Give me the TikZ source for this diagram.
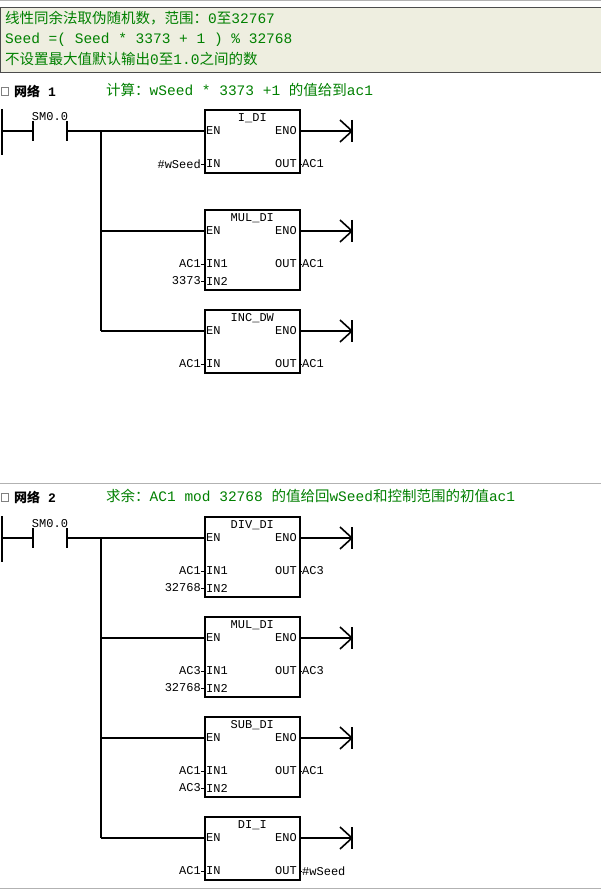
\documentclass[tikz,border=0pt]{standalone}
\usepackage{fontspec}
\usetikzlibrary{calc}
\setmainfont{Liberation Mono}
\newfontfamily\cjk{Noto Sans CJK SC}
\definecolor{cgreen}{RGB}{0,128,0}
\definecolor{hdr}{RGB}{238,238,224}
\begin{document}
\begin{tikzpicture}[x=1pt,y=-1pt,
  wire/.style={line width=1.6pt},
  box/.style={draw,line width=1.6pt,minimum width=95pt,anchor=north west,inner sep=0},
  lbl/.style={font=\fontsize{12}{12}\selectfont,inner sep=0},
  cmt/.style={font=\fontsize{14.5}{14.5}\selectfont,text=cgreen,inner sep=0,anchor=west}]
\useasboundingbox (0,0) rectangle (601,890);
\fill[white] (0,0) rectangle (601,890);
\draw[gray!60,line width=1pt] (0,1) -- (601,1);
\draw[fill=hdr,draw=black!70] (0,7) rectangle (603,72);
\node[cmt] (c1) at (5,18) {{\cjk 线性同余法取伪随机数，范围：}0{\cjk 至}32767};
\node[cmt] (c2) at (5,40) {Seed =( Seed * 3373 + 1 ) \% 32768};
\node[cmt] (c3) at (5,59) {{\cjk 不设置最大值默认输出}0{\cjk 至}1.0{\cjk 之间的数}};
\draw[gray!60,line width=1pt] (0,483) -- (601,483);
\draw[gray!60,line width=1pt] (0,888) -- (601,888);
\foreach \y in {91,497}{
  \draw[gray] (1,\y-4) rectangle (8,\y+4);
}
\node[anchor=west,inner sep=0,font=\bfseries\fontsize{13}{13}\selectfont] (n1) at (14,91) {{\cjk\bfseries 网络} 1};
\node[cmt] (t1) at (106,90) {{\cjk 计算：}wSeed * 3373 +1 {\cjk 的值给到}ac1};
\node[anchor=west,inner sep=0,font=\bfseries\fontsize{13}{13}\selectfont] (n2) at (14,497) {{\cjk\bfseries 网络} 2};
\node[cmt] (t2) at (106,496) {{\cjk 求余：}AC1 mod 32768 {\cjk 的值给回}wSeed{\cjk 和控制范围的初值}ac1};
\foreach \ry/\top/\bot in {131/109/155, 538/516/562}{
  \draw[wire] (2,\top) -- (2,\bot);
  \draw[wire] (2,\ry) -- (33,\ry);
  \draw[wire] (33,\ry-10) -- (33,\ry+10);
  \draw[wire] (67,\ry-10) -- (67,\ry+10);
  \draw[wire] (67,\ry) -- (204,\ry);
  \node[lbl,anchor=south] at (50,\ry-10) {SM0.0};
}
\draw[wire] (101,131) -- (101,331);
\draw[wire] (101,538) -- (101,838);
\newcommand\fbk[7]{%
  \node[box,minimum height=#4] (#1) at (204,#2) {};
  \node[lbl,anchor=north] at ($(#1.north)+(0,4)$) {#3};
  \node[lbl,anchor=west] at (206,#2+22) {EN};
  \node[lbl,anchor=east] at (297,#2+22) {ENO};
  \draw[wire] (101,#2+22) -- (204,#2+22);
  \draw[wire] (299,#2+22) -- (352,#2+22);
  \draw[wire] (340,#2+11) -- (352,#2+22) -- (340,#2+33);
  \draw[wire] (352,#2+11) -- (352,#2+33);
  \draw (201,#2+55) -- (204,#2+55);
  \draw (299,#2+55) -- (302,#2+55);
  \node[lbl,anchor=east] at (297,#2+55) {OUT};
  \node[lbl,anchor=west] at (302,#2+55) {#7};
  \node[lbl,anchor=east] at (201,#2+55) {#5};
}
\newcommand\inpone[2]{\node[lbl,anchor=west] at (206,#1+55) {#2};}
\newcommand\inptwo[2]{\node[lbl,anchor=west] at (206,#1+55) {IN1};
  \node[lbl,anchor=west] at (206,#1+72) {IN2};
  \draw (201,#1+72) -- (204,#1+72);
  \node[lbl,anchor=east] at (201,#1+72) {#2};}
\fbk{b1}{109}{I\_DI}{63pt}{\#wSeed}{}{AC1}\inpone{109}{IN}
\fbk{b2}{209}{MUL\_DI}{80pt}{AC1}{}{AC1}\inptwo{209}{3373}
\fbk{b3}{309}{INC\_DW}{63pt}{AC1}{}{AC1}\inpone{309}{IN}
\fbk{b4}{516}{DIV\_DI}{80pt}{AC1}{}{AC3}\inptwo{516}{32768}
\fbk{b5}{616}{MUL\_DI}{80pt}{AC3}{}{AC3}\inptwo{616}{32768}
\fbk{b6}{716}{SUB\_DI}{80pt}{AC1}{}{AC1}\inptwo{716}{AC3}
\fbk{b7}{816}{DI\_I}{63pt}{AC1}{}{\#wSeed}\inpone{816}{IN}
\end{tikzpicture}
\end{document}
